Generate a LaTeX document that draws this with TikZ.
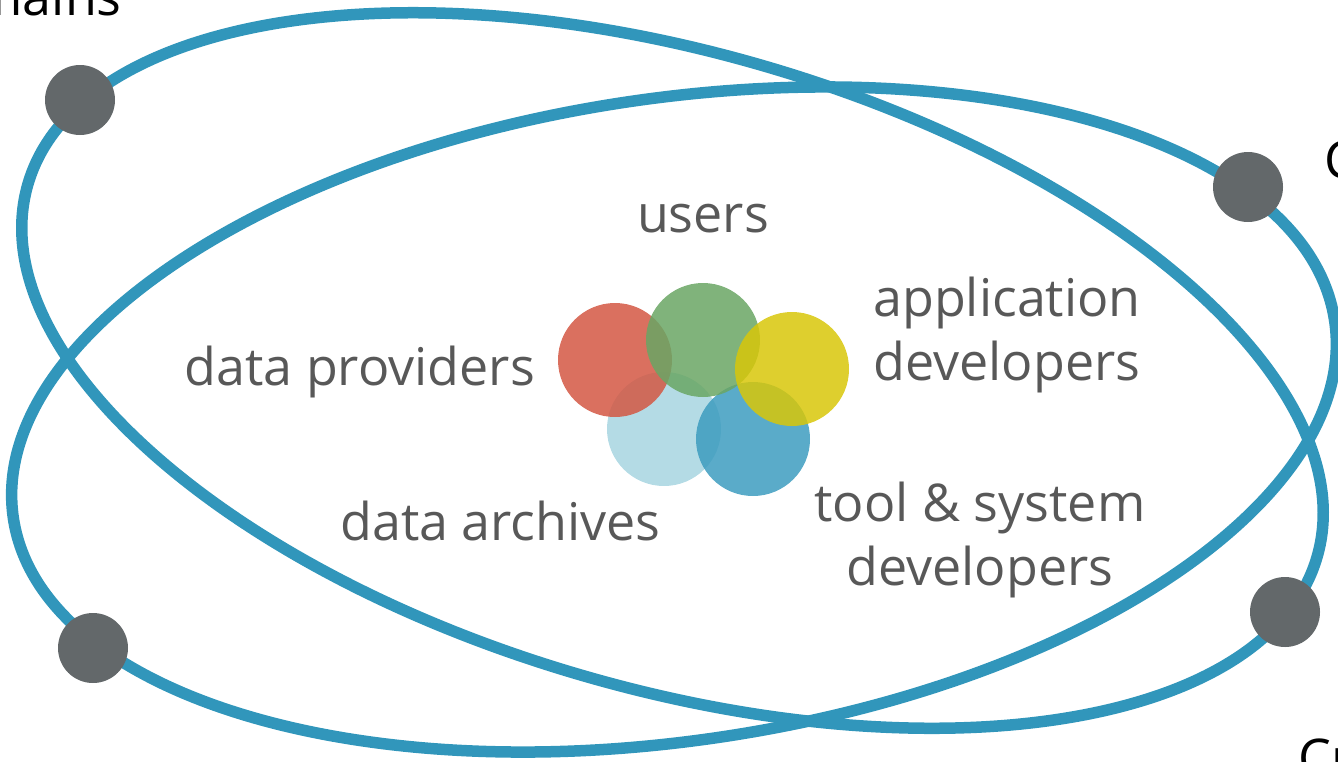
\documentclass[tikz,border=0pt]{standalone}
\usepackage{fontspec}
\setmainfont{Open Sans}
\definecolor{orbita}{RGB}{49,150,187}
\definecolor{nucleo}{RGB}{99,104,106}
\definecolor{scritta}{RGB}{88,88,88}
\definecolor{rosso}{RGB}{211,87,67}
\definecolor{verde}{RGB}{106,166,100}
\definecolor{giallo}{RGB}{216,199,9}
\definecolor{celeste}{RGB}{167,213,225}
\definecolor{azzurro}{RGB}{61,156,191}
\tikzset{
  orbit/.style={color=orbita, line width=11.5pt},
  puntino/.style={color=nucleo},
  gruppo/.style={fill opacity=0.85, draw=none},
  etichetta/.style={color=scritta, font=\fontsize{52}{64}\selectfont, align=center, inner sep=0pt},
  bordo/.style={color=black, font=\fontsize{52}{64}\selectfont, inner sep=0pt}
}
\begin{document}
\begin{tikzpicture}[x=1pt, y=-1pt]
		\useasboundingbox (0,0) rectangle (1338,761);
		% orbite
		\draw[orbit] (672.5,370.5) ellipse [x radius=671pt, y radius=318pt, rotate=-16.1];
		\draw[orbit] (674,419.5) ellipse [x radius=668pt, y radius=321pt, rotate=8.5];
		
		\fill[puntino] (80,100)  circle [radius=35pt];
		\fill[puntino] (1248,187)  circle [radius=35pt];
		\fill[puntino] (93,648)  circle [radius=35pt];
		\fill[puntino] (1285,612)  circle [radius=35pt];
		
		% cerchi colorati
		\fill[gruppo, color=celeste] (664,429) circle [radius=57pt];
		\fill[gruppo, color=azzurro] (753,439) circle [radius=57pt];
		\fill[gruppo, color=rosso] (615,360) circle [radius=57pt];
		\fill[gruppo, color=verde] (703,340) circle [radius=57pt];
		\fill[gruppo, color=giallo] (792,369) circle [radius=57pt];
		
		\node[etichetta, anchor=base] (users) at (703,232) {users};
		\node[etichetta, anchor=base east] (providers) at (535,385) {data providers};
		\node[etichetta, anchor=base] (appdev) at (1007,380) {application\\developers};
		\node[etichetta, anchor=base east] (archives) at (661,540) {data archives};
		\node[etichetta, anchor=base] (tooldev) at (980,585) {tool \& system\\developers};
		
		\node[bordo, anchor=base east] (domains) at (122,15) {Domains};
		\node[bordo, anchor=base west] (comm) at (1324,178) {C};
		\node[bordo, anchor=base west] (cross) at (1298,776) {Cr};
	\end{tikzpicture}
\end{document}
